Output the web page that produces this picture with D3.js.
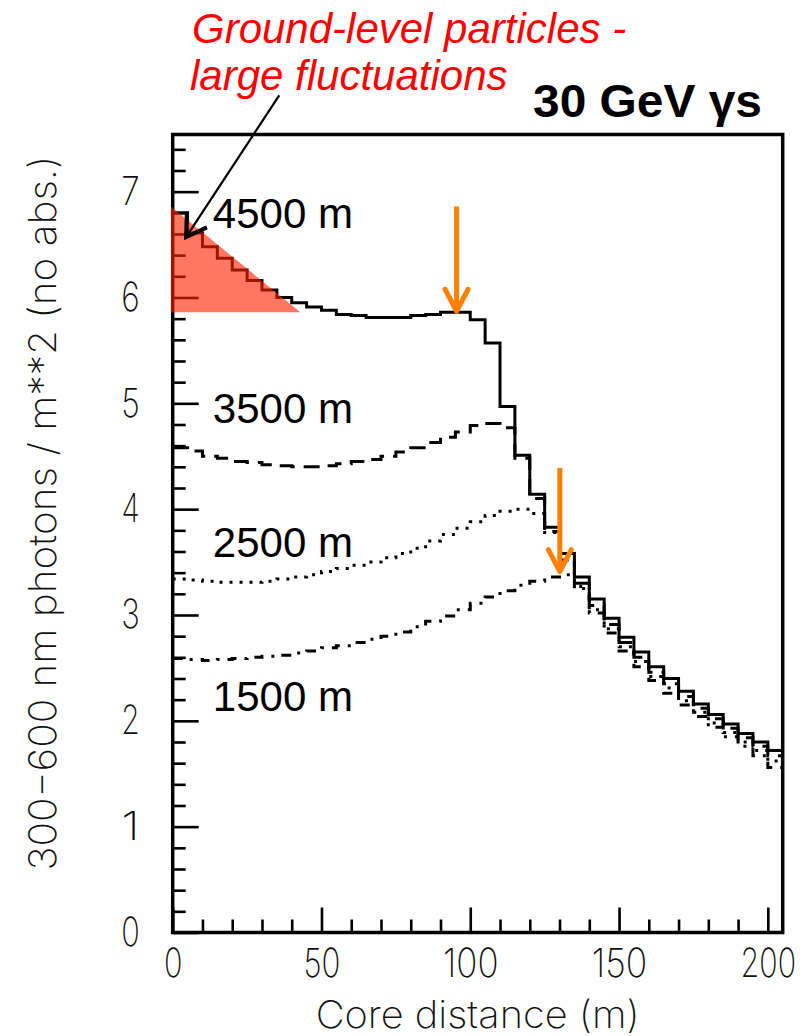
<!DOCTYPE html>
<html>
<head>
<meta charset="utf-8">
<script src="https://cdn.jsdelivr.net/npm/d3@7"></script>
<style>
  body { margin: 0; background: #fff; }
  .thin { font-family: Inter, Roboto, Lato, "DejaVu Sans", sans-serif; font-weight: 200; }
</style>
</head>
<body>
<div id="container"></div>
<script>
let w = 810;
let h = 1036;

// histogram bins: 5 m wide, 0 .. 205 m
let binWidth = 5;
let xMax = 205;

// 300-600 nm photons / m**2 per bin
let alt4500 = [6.80, 6.61, 6.48, 6.37, 6.26, 6.16, 6.07, 6.00, 5.95, 5.91,
               5.88, 5.84, 5.83, 5.81, 5.81, 5.81, 5.83, 5.84, 5.86, 5.86,
               5.79, 5.57, 4.97, 4.51, 4.14, 3.83, 3.58, 3.36, 3.15, 2.97,
               2.79, 2.65, 2.51, 2.40, 2.28, 2.16, 2.06, 1.97, 1.88, 1.80, 1.72];
let alt3500 = [4.58, 4.55, 4.50, 4.48, 4.45, 4.44, 4.42, 4.41, 4.40, 4.40,
               4.41, 4.43, 4.45, 4.47, 4.50, 4.54, 4.58, 4.63, 4.68, 4.73,
               4.79, 4.81, 4.77, 4.48, 4.10, 3.79, 3.52, 3.30, 3.09, 2.91,
               2.74, 2.60, 2.46, 2.35, 2.23, 2.12, 2.02, 1.93, 1.84, 1.76, 1.67];
let alt2500 = [3.34, 3.33, 3.32, 3.31, 3.31, 3.31, 3.32, 3.34, 3.36, 3.38,
               3.41, 3.44, 3.47, 3.50, 3.54, 3.58, 3.63, 3.70, 3.76, 3.82,
               3.88, 3.94, 3.98, 4.00, 3.96, 3.78, 3.52, 3.27, 3.05, 2.87,
               2.70, 2.56, 2.42, 2.31, 2.19, 2.08, 1.98, 1.89, 1.80, 1.72, 1.62];
let alt1500 = [2.59, 2.58, 2.57, 2.58, 2.59, 2.60, 2.61, 2.62, 2.64, 2.66,
               2.69, 2.71, 2.74, 2.77, 2.80, 2.84, 2.89, 2.94, 2.99, 3.05,
               3.11, 3.17, 3.23, 3.28, 3.32, 3.36, 3.38, 3.25, 3.02, 2.83,
               2.66, 2.51, 2.38, 2.26, 2.15, 2.04, 1.94, 1.85, 1.76, 1.67, 1.56];

let altLabels = ["4500 m", "3500 m", "2500 m", "1500 m"];
let labelPos = [[13.5, 6.66], [13.5, 4.81], [13.5, 3.55], [13.5, 2.09]]; // x (m), baseline value

let xMajorTicks = [0, 50, 100, 150, 200];
let xMinorTicks = d3.range(10, 201, 10).filter(d => d % 50 != 0);
let yMajorTicks = [0, 1, 2, 3, 4, 5, 6, 7];
let yMinorTicks = d3.range(1, 38).map(d => d / 5).filter(d => Math.abs(d - Math.round(d)) > 0.01);

// annotation anchors in data units
let fluctArrow = [[35.8, 7.91], [4.5, 6.57]];
let orangeArrows = [[95.4, 6.86, 5.87], [130.1, 4.39, 3.41]];
let redWedge = [[-0.6, 6.86], [-0.6, 5.86], [42.9, 5.86]];

let viz = d3.select("#container")
  .append("svg")
    .attr("width", w)
    .attr("height", h)
    .style("background-color", "white");

let xScale = d3.scaleLinear().domain([0, xMax]).range([172.7, 782.7]);
let yScale = d3.scaleLinear().domain([0, 7.54]).range([932.5, 134.5]);

function stepPoints(values) {
  let pts = values.map((v, i) => [i * binWidth, v]);
  pts.push([xMax, values[values.length - 1]]);
  return pts;
}

let stepLine = d3.line()
  .x(d => xScale(d[0]))
  .y(d => yScale(d[1]))
  .curve(d3.curveStepAfter);

let series = [
  {vals: alt4500, dash: null},
  {vals: alt3500, dash: "16,9"},
  {vals: alt2500, dash: "3,7"},
  {vals: alt1500, dash: "10,8,3,8"}
];

// draw lower curves first, solid on top
series.slice().reverse().forEach(s => {
  viz.append("path")
    .attr("d", stepLine(stepPoints(s.vals)))
    .attr("fill", "none")
    .attr("stroke", "black")
    .attr("stroke-width", 3)
    .attr("stroke-dasharray", s.dash);
});

// axes: ticks point inward
let xMinorAxis = d3.axisBottom(xScale).tickValues(xMinorTicks).tickSize(-13).tickFormat("");
let xMajorAxis = d3.axisBottom(xScale).tickValues(xMajorTicks).tickSize(-25).tickPadding(16);
let yMinorAxis = d3.axisLeft(yScale).tickValues(yMinorTicks).tickSize(-13).tickFormat("");
let yMajorAxis = d3.axisLeft(yScale).tickValues(yMajorTicks).tickSize(-26).tickPadding(33);

let xAxisGroup = viz.append("g").attr("transform", "translate(0," + yScale(0) + ")");
xAxisGroup.append("g").call(xMinorAxis);
xAxisGroup.append("g").call(xMajorAxis);
let yAxisGroup = viz.append("g").attr("transform", "translate(" + xScale(0) + ",0)");
yAxisGroup.append("g").call(yMinorAxis);
yAxisGroup.append("g").call(yMajorAxis);

viz.selectAll(".domain").remove();
viz.selectAll(".tick line").attr("stroke", "black").attr("stroke-width", 2.6);
viz.selectAll(".tick text")
  .attr("class", "thin")
  .attr("fill", "#111")
  .attr("textLength", function() { return this.textContent.length * 18.5; })
  .attr("lengthAdjust", "spacingAndGlyphs")
  .style("font-size", "40px");

// frame
viz.append("rect")
  .attr("x", xScale(0))
  .attr("y", yScale(7.54))
  .attr("width", xScale(xMax) - xScale(0))
  .attr("height", yScale(0) - yScale(7.54))
  .attr("fill", "none")
  .attr("stroke", "black")
  .attr("stroke-width", 3.5);

// axis titles
viz.append("text")
  .attr("class", "thin")
  .attr("x", (xScale(0) + xScale(xMax)) / 2)
  .attr("y", 1028)
  .attr("text-anchor", "middle")
  .attr("textLength", 324)
  .attr("lengthAdjust", "spacingAndGlyphs")
  .attr("fill", "#111")
  .style("font-size", "38px")
  .text("Core distance (m)");

viz.append("text")
  .attr("class", "thin")
  .attr("transform", "translate(56,513) rotate(-90)")
  .attr("text-anchor", "middle")
  .attr("textLength", 715)
  .attr("lengthAdjust", "spacingAndGlyphs")
  .attr("fill", "#111")
  .style("font-size", "38px")
  .text("300\u2212600 nm photons / m**2 (no abs.)");

// altitude labels
viz.selectAll(".altLabel")
  .data(altLabels)
  .enter()
  .append("text")
    .attr("class", "altLabel")
    .attr("x", (d, i) => xScale(labelPos[i][0]))
    .attr("y", (d, i) => yScale(labelPos[i][1]))
    .attr("fill", "black")
    .style("font-family", "'Liberation Sans', Arial, sans-serif")
    .style("font-size", "42px")
    .text(d => d);

// red wedge over the fluctuating bins
viz.append("path")
  .attr("d", d3.line().x(d => xScale(d[0])).y(d => yScale(d[1]))(redWedge) + "Z")
  .attr("fill", "#ff2200")
  .attr("fill-opacity", 0.62);

// black annotation arrow
let a0 = [xScale(fluctArrow[0][0]), yScale(fluctArrow[0][1])];
let a1 = [xScale(fluctArrow[1][0]), yScale(fluctArrow[1][1])];
viz.append("line")
  .attr("x1", a0[0]).attr("y1", a0[1])
  .attr("x2", a1[0]).attr("y2", a1[1])
  .attr("stroke", "black").attr("stroke-width", 2.2);
let ang = Math.atan2(a1[1] - a0[1], a1[0] - a0[0]);
let headLen = 23;
let headSpread = 0.55;
viz.append("path")
  .attr("d", "M" + (a1[0] - headLen * Math.cos(ang - headSpread)) + "," + (a1[1] - headLen * Math.sin(ang - headSpread)) +
             "L" + a1[0] + "," + a1[1] +
             "L" + (a1[0] - headLen * Math.cos(ang + headSpread)) + "," + (a1[1] - headLen * Math.sin(ang + headSpread)))
  .attr("fill", "none")
  .attr("stroke", "black")
  .attr("stroke-width", 4)
  .attr("stroke-linejoin", "miter");

// orange arrows marking the peaks
orangeArrows.forEach(a => {
  let x = xScale(a[0]);
  let yTop = yScale(a[1]);
  let yTip = yScale(a[2]);
  viz.append("line")
    .attr("x1", x).attr("y1", yTop)
    .attr("x2", x).attr("y2", yTip - 3)
    .attr("stroke", "#ff7f00").attr("stroke-width", 5);
  viz.append("path")
    .attr("d", "M" + (x - 11.5) + "," + (yTip - 22) + "L" + x + "," + yTip + "L" + (x + 11.5) + "," + (yTip - 22))
    .attr("fill", "none")
    .attr("stroke", "#ff7f00")
    .attr("stroke-width", 5)
    .attr("stroke-linecap", "round")
    .attr("stroke-linejoin", "round");
});

// title
let title = viz.append("text")
  .attr("x", 533)
  .attr("y", 117)
  .attr("textLength", 229)
  .attr("lengthAdjust", "spacingAndGlyphs")
  .attr("fill", "black")
  .style("font-family", "'Liberation Sans', Arial, sans-serif")
  .style("font-weight", "bold")
  .style("font-size", "47px");
title.append("tspan").text("30 GeV ");
title.append("tspan").text("\u03b3s");

// red comment
let note = viz.append("text")
  .attr("fill", "#ff0000")
  .style("font-family", "'Liberation Sans', Arial, sans-serif")
  .style("font-style", "italic")
  .style("font-size", "42px");
note.append("tspan").attr("x", 192).attr("y", 43).text("Ground-level particles -");
note.append("tspan").attr("x", 190).attr("y", 90).text("large fluctuations");
</script>
</body>
</html>
